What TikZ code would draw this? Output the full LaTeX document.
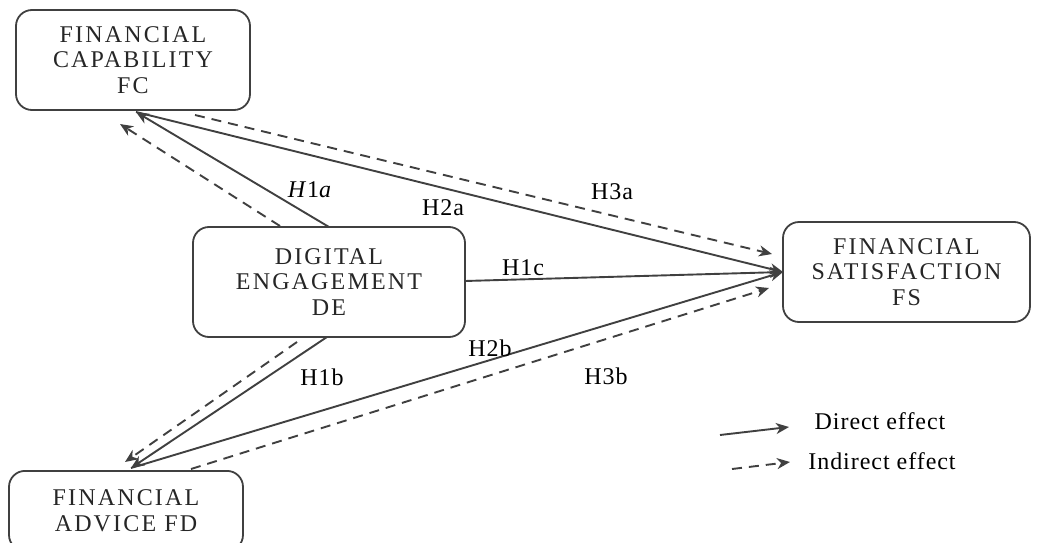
\documentclass[tikz,border=0pt]{standalone}
\usepackage{fontspec}
\setmainfont{Liberation Serif}
\newfontfamily\boxfont[LetterSpace=9]{Liberation Serif}
\newfontfamily\legfont[LetterSpace=4]{Liberation Serif}
\usetikzlibrary{arrows.meta}
\definecolor{ink}{HTML}{404040}
\begin{document}
\begin{tikzpicture}[x=1pt,y=-1pt,
  box/.style={draw=ink, line width=1.8pt, rounded corners=16pt, align=center,
    font=\boxfont\fontsize{24}{25.5}\selectfont, text=black!85, inner sep=0pt},
  direct/.style={draw=ink, line width=1.9pt, -{Stealth[length=13pt,width=11pt,inset=4pt]}},
  indirect/.style={direct, dash pattern=on 10pt off 7pt},
  lab/.style={font=\legfont\fontsize{24}{26}\selectfont, text=black, inner sep=1pt},
  leg/.style={font=\legfont\fontsize{24}{26}\selectfont, text=black, inner sep=0pt}]
\useasboundingbox (0,0) rectangle (1038,543);
% boxes
\node[box, minimum width=234pt, minimum height=100pt] (fc) at (133,60) {FINANCIAL\\CAPABILITY\\FC};
\node[box, minimum width=272pt, minimum height=110pt] (de) at (329,282) {DIGITAL\\ENGAGEMENT\\DE};
\node[box, minimum width=247pt, minimum height=100pt] (fs) at (906.5,272) {FINANCIAL\\SATISFACTION\\FS};
\node[box, minimum width=234pt, minimum height=80pt, anchor=north] (fd) at (126,470) {FINANCIAL\\ADVICE FD};
% endpoints
\coordinate (fcA) at (136,112);
\coordinate (fcB) at (120,124);
\coordinate (fcS) at (195,115);
\coordinate (fsA) at (783,272);
\coordinate (fsB) at (772,254);
\coordinate (fsC) at (769,288);
\coordinate (fdA) at (131,468);
\coordinate (fdB) at (125,462);
\coordinate (fdS) at (191,469);
\coordinate (deT) at (329,227);
\coordinate (deTL) at (280,226);
\coordinate (deR) at (465,281);
\coordinate (deB) at (327,337);
\coordinate (deBL) at (297,342);
% connectors
\draw[direct] (deT) -- (fcA);
\draw[direct] (fcA) -- (fsA);
\draw[direct] (deR) -- (fsA);
\draw[direct] (deB) -- (fdA);
\draw[direct] (fdA) -- (fsA);
\draw[indirect] (fcS) -- (fsB);
\draw[indirect] (deTL) -- (fcB);
\draw[indirect] (deBL) -- (fdB);
\draw[indirect] (fdS) -- (fsC);
% labels
\node[lab] (h1a) at (310,190) {\textit{H}1\textit{a}};
\node[lab] (h2a) at (443,208) {H2a};
\node[lab] (h3a) at (612,192) {H3a};
\node[lab] (h1c) at (523,268) {H1c};
\node[lab] (h2b) at (490,348) {H2b};
\node[lab] (h1b) at (322,377) {H1b};
\node[lab] (h3b) at (606,376) {H3b};
% legend
\coordinate (l1s) at (720,435);
\coordinate (l1e) at (789,427);
\coordinate (l2s) at (732,469);
\coordinate (l2e) at (790,462);
\draw[direct] (l1s) -- (l1e);
\draw[indirect] (l2s) -- (l2e);
\node[leg] (ld) at (880,421) {Direct effect};
\node[leg] (li) at (882,461) {Indirect effect};
\end{tikzpicture}
\end{document}
